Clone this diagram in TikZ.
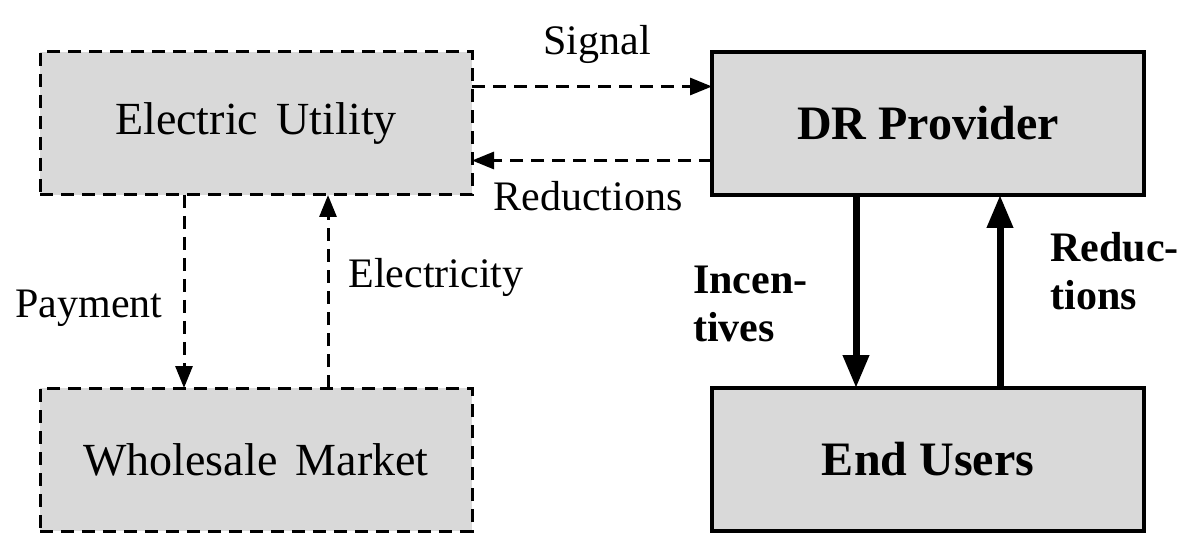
\documentclass[tikz,border=0pt]{standalone}
\usepackage{fontspec}
\setmainfont{Liberation Serif}
\usetikzlibrary{positioning,arrows.meta}
\tikzset{
	box/.style = {rectangle, fill=black!15, minimum width=216pt, minimum height=71.5pt, inner sep=0pt, outer sep=0pt},
	dashbox/.style = {box, draw, line width=1.5pt, dash pattern=on 6.5pt off 4pt, font=\fontsize{23}{27}\selectfont},
	solidbox/.style = {box, draw, line width=1.8pt, font=\fontsize{24}{28}\selectfont\bfseries},
	dasharrow/.style = {line width=1.5pt, dash pattern=on 6.5pt off 4pt, -{Triangle[length=11pt,width=8.5pt]}},
	boldarrow/.style = {line width=3.5pt, -{Triangle[length=16.5pt,width=12.5pt]}},
	lbl/.style = {inner sep=0pt, font=\fontsize{21}{24}\selectfont},
	blbl/.style = {inner sep=0pt, align=left, font=\fontsize{21}{24}\selectfont\bfseries}
}

\begin{document}
\begin{tikzpicture}
	\useasboundingbox (0,0) rectangle (595pt,279pt);
	\node[dashbox] (util) at (128pt,217.25pt) {Electric\hspace{0.4em}Utility};
	\node[dashbox, below=96.5pt of util] (market) {Wholesale\hspace{0.4em}Market};
	\node[solidbox, right=120pt of util] (dr) {DR Provider};
	\node[solidbox, below=96.5pt of dr] (users) {End Users};

	% utility <-> provider
	\draw[dasharrow] ([yshift=18.5pt]util.east) -- node[lbl, above=10.5pt, xshift=2.5pt]{Signal} ([yshift=18.5pt]dr.west);
	\draw[dasharrow] ([yshift=-18.5pt]dr.west) -- node[lbl, below=9.5pt, xshift=-2pt]{Reductions} ([yshift=-18.5pt]util.east);

	% utility <-> market
	\draw[dasharrow] ([xshift=-36pt]util.south) -- node[lbl, left=10pt, yshift=-8.5pt]{Payment} ([xshift=-36pt]market.north);
	\draw[dasharrow] ([xshift=36pt]market.north) -- node[lbl, right=9.5pt, yshift=7.25pt]{Electricity} ([xshift=36pt]util.south);

	% provider <-> users
	\draw[boldarrow] ([xshift=-36pt]dr.south) -- node[blbl, left=22.5pt, yshift=-6pt]{Incen-\\tives} ([xshift=-36pt]users.north);
	\draw[boldarrow] ([xshift=36pt]users.north) -- node[blbl, right=23.5pt, yshift=10pt]{Reduc-\\tions} ([xshift=36pt]dr.south);
\end{tikzpicture}
\end{document}
